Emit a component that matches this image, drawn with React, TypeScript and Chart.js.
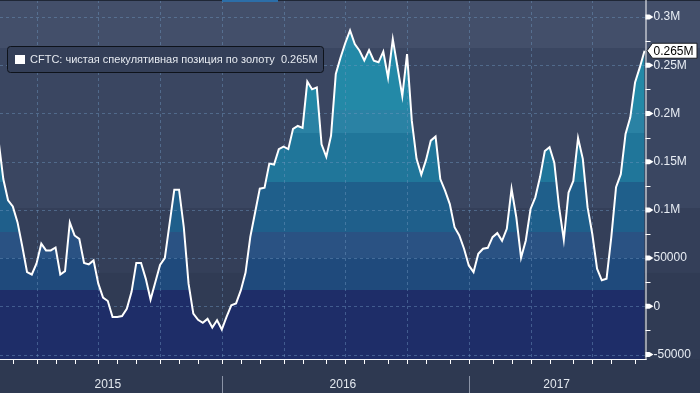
import { useEffect, useRef } from 'react';
import { Chart, registerables } from 'chart.js';

Chart.register(...registerables);

// ---- data ----
const seriesLabel = 'CFTC: чистая спекулятивная позиция по золоту';
const firstWeek = '2015-02-10'; // weekly CFTC reports (Tuesdays)
const positions = [
  172000, 132000, 110000, 103500, 87000, 62000, 35500, 33000, 44500, 65000,
  58000, 58000, 61000, 33000, 36500, 87000, 73500, 70000, 45000, 43500,
  47600, 23500, 9000, 5500, -11000, -11000, -10000, -2500, 15000, 45000,
  45000, 28500, 7000, 25000, 43000, 50000, 85500, 121000, 121000, 82000,
  23500, -7500, -14000, -17000, -13000, -22000, -14500, -24000, -11000, 1000,
  3000, 16500, 35000, 72000, 97000, 122000, 123000, 148000, 147000, 163000,
  165500, 163000, 184000, 187000, 185000, 233000, 225000, 227000, 168000, 155000,
  177000, 241000, 258000, 273000, 286000, 272000, 265000, 255000, 265700, 254600,
  253000, 264000, 237000, 277000, 247700, 218000, 261500, 192500, 153000, 136600,
  151800, 171800, 176000, 132000, 120000, 106000, 82000, 73500, 59700, 42400,
  35500, 54500, 59700, 60700, 71700, 75900, 68000, 80400, 121800, 92400,
  50400, 68300, 101000, 113000, 134000, 161000, 165000, 149000, 103000, 69000,
  118000, 130000, 174600, 152900, 102800, 75000, 39000, 27000, 28700, 71700,
  123500, 137000, 178700, 196000, 232000, 247700, 265000,
];
const yTicks = [-50000, 0, 50000, 100000, 150000, 200000, 250000, 300000];
const yMinorTicks = [-25000, 25000, 75000, 125000, 175000, 225000, 275000];
const lastValueLabel = '0.265M';

// ---- derived (dates from weekly series) ----
const DAY = 86400000;
const dates = positions.map((_, i) => new Date(Date.parse(firstWeek + 'T00:00:00Z') + i * 7 * DAY));
const xOf = (i: number) => i - 1;
const points = positions.map((v, i) => ({ x: xOf(i), y: v }));
const monthTicks: number[] = [];
const quarterTicks: number[] = [];
const yearStarts: number[] = [];
for (let i = 1; i < dates.length; i++) {
  if (dates[i].getUTCMonth() !== dates[i - 1].getUTCMonth()) {
    monthTicks.push(xOf(i));
    const m = dates[i].getUTCMonth();
    if (m % 3 === 0) quarterTicks.push(xOf(i));
    if (m === 0) yearStarts.push(xOf(i));
  }
}
const years: { label: string; mid: number }[] = [];
{
  const byYear = new Map<number, number[]>();
  dates.forEach((d, i) => {
    const y = d.getUTCFullYear();
    if (!byYear.has(y)) byYear.set(y, []);
    byYear.get(y)!.push(xOf(i));
  });
  byYear.forEach((xs, y) => years.push({ label: String(y), mid: (xs[0] + xs[xs.length - 1]) / 2 }));
}

// ---- styles ----
const FONT = '"Liberation Sans", Arial, sans-serif';
const bgBands: [number, number, string][] = [
  [0, 0.1337, '#434f6a'],
  [0.1337, 0.5794, '#3a4661'],
  [0.5794, 0.7604, '#343f59'],
  [0.7604, 1, '#303b54'],
];
const fillBands: [number, number, string][] = [
  [0, 0.1337, '#2a8dac'],
  [0.1337, 0.3064, '#2389a7'],
  [0.3064, 0.3705, '#2a82a4'],
  [0.3705, 0.507, '#20769a'],
  [0.507, 0.6462, '#1f5f8b'],
  [0.6462, 0.7187, '#2a5283'],
  [0.7187, 0.8078, '#1f4a7c'],
  [0.8078, 1, '#1e2d68'],
];

const fmt = (v: number) => (Math.abs(v) >= 100000 ? `${v / 1e6}M` : String(v));

const decor = {
  id: 'decor',
  beforeDraw(chart: any) {
    const { ctx, chartArea: a, width, height } = chart;
    ctx.save();
    const h = a.bottom - a.top;
    for (const [f0, f1, c] of bgBands) {
      ctx.fillStyle = c;
      ctx.fillRect(0, a.top + f0 * h, width, (f1 - f0) * h + 0.5);
    }
    ctx.fillStyle = '#2e3951';
    ctx.fillRect(0, a.bottom, width, height - a.bottom);
    ctx.restore();
  },
  beforeDatasetDraw(chart: any, args: any) {
    if (args.index !== 0) return;
    const { ctx, chartArea: a } = chart;
    const xs = chart.scales.x;
    const ys = chart.scales.y;
    ctx.save();
    ctx.beginPath();
    ctx.rect(a.left, a.top, a.right - a.left, a.bottom - a.top);
    ctx.clip();
    ctx.strokeStyle = 'rgba(110,150,190,0.45)';
    ctx.lineWidth = 1;
    ctx.setLineDash([3, 3]);
    ctx.beginPath();
    for (const v of yTicks) {
      const y = Math.round(ys.getPixelForValue(v)) + 0.5;
      ctx.moveTo(a.left, y);
      ctx.lineTo(a.right, y);
    }
    for (const q of quarterTicks) {
      const x = Math.round(xs.getPixelForValue(q)) + 0.5;
      ctx.moveTo(x, a.top);
      ctx.lineTo(x, a.bottom);
    }
    ctx.stroke();
    ctx.restore();
  },
  afterDraw(chart: any) {
    const { ctx, chartArea: a, width, height } = chart;
    const xs = chart.scales.x;
    const ys = chart.scales.y;
    ctx.save();
    // top strip
    ctx.fillStyle = '#1f2736';
    ctx.fillRect(0, 0, width, 1);
    ctx.fillStyle = '#2c6ea8';
    ctx.fillRect(222, 0, 56, 2);
    // axes
    ctx.strokeStyle = '#ffffff';
    ctx.lineWidth = 1;
    ctx.beginPath();
    ctx.moveTo(a.right + 0.5, 0);
    ctx.lineTo(a.right + 0.5, a.bottom + 1);
    ctx.moveTo(a.left, a.bottom + 0.5);
    ctx.lineTo(a.right + 1, a.bottom + 0.5);
    for (const m of monthTicks) {
      const x = Math.round(xs.getPixelForValue(m)) + 0.5;
      ctx.moveTo(x, a.bottom);
      ctx.lineTo(x, a.bottom + 5);
    }
    for (const v of yMinorTicks) {
      const y = Math.round(ys.getPixelForValue(v)) + 0.5;
      ctx.moveTo(a.right, y);
      ctx.lineTo(a.right + 5, y);
    }
    ctx.stroke();
    // major tick pointers
    ctx.fillStyle = '#ffffff';
    for (const v of yTicks) {
      const y = ys.getPixelForValue(v);
      ctx.beginPath();
      ctx.moveTo(a.right, y - 2.5);
      ctx.lineTo(a.right + 4, y - 2.5);
      ctx.lineTo(a.right + 8, y);
      ctx.lineTo(a.right + 4, y + 2.5);
      ctx.lineTo(a.right, y + 2.5);
      ctx.closePath();
      ctx.fill();
    }
    // year separators & labels
    ctx.strokeStyle = '#8a93a6';
    ctx.beginPath();
    for (const s of yearStarts) {
      const x = Math.round(xs.getPixelForValue(s)) + 0.5;
      ctx.moveTo(x, a.bottom + 17);
      ctx.lineTo(x, height);
    }
    ctx.stroke();
    ctx.fillStyle = '#e3e8ef';
    ctx.font = `12px ${FONT}`;
    ctx.textAlign = 'center';
    ctx.textBaseline = 'middle';
    for (const y of years) {
      ctx.fillText(y.label, xs.getPixelForValue(y.mid), a.bottom + 26);
    }
    // last value tag
    const lastY = ys.getPixelForValue(positions[positions.length - 1]);
    const bx = a.right + 7;
    ctx.beginPath();
    ctx.moveTo(a.right + 1.5, lastY);
    ctx.lineTo(bx, lastY - 7.5);
    ctx.lineTo(width - 3, lastY - 7.5);
    ctx.lineTo(width - 3, lastY + 7.5);
    ctx.lineTo(bx, lastY + 7.5);
    ctx.closePath();
    ctx.fillStyle = '#ffffff';
    ctx.fill();
    ctx.strokeStyle = '#1a1d24';
    ctx.stroke();
    ctx.fillStyle = '#000000';
    ctx.textAlign = 'left';
    ctx.font = `12px ${FONT}`;
    ctx.fillText(lastValueLabel, bx + 1, lastY + 1);
    // legend
    const lx = 7.5, ly = 46.5, lw = 316, lh = 26;
    ctx.beginPath();
    ctx.roundRect(lx, ly, lw, lh, 3);
    ctx.fillStyle = '#343f58';
    ctx.fill();
    ctx.strokeStyle = '#0e131b';
    ctx.stroke();
    ctx.fillStyle = '#ffffff';
    ctx.fillRect(15, 55, 10, 9);
    ctx.fillStyle = '#e6eaf0';
    ctx.font = `11px ${FONT}`;
    ctx.textAlign = 'left';
    ctx.textBaseline = 'middle';
    ctx.fillText(`${seriesLabel}  ${lastValueLabel}`, 30, 60);
    ctx.restore();
  },
};

export default function App() {
  const ref = useRef<HTMLCanvasElement>(null);
  useEffect(() => {
    document.body.style.margin = '0';
    document.body.style.background = '#2e3951';
    const chart = new Chart(ref.current!, {
      type: 'line',
      data: {
        datasets: [
          {
            label: seriesLabel,
            data: points,
            borderColor: '#ffffff',
            borderWidth: 2,
            pointRadius: 0,
            fill: false,
            tension: 0,
            order: 0,
          },
          {
            label: 'fill',
            data: points,
            borderWidth: 0,
            pointRadius: 0,
            fill: 'start',
            tension: 0,
            order: 1,
            backgroundColor: (c: any) => {
              const ch = c.chart;
              const a = ch.chartArea;
              if (!a) return 'transparent';
              const g = ch.ctx.createLinearGradient(0, a.top, 0, a.bottom);
              for (const [f0, f1, col] of fillBands) {
                g.addColorStop(f0, col);
                g.addColorStop(f1, col);
              }
              return g;
            },
          },
        ],
      },
      options: {
        responsive: false,
        animation: false,
        devicePixelRatio: 1,
        layout: { padding: { left: 0, top: 0, right: 0, bottom: 34 } },
        plugins: { legend: { display: false }, tooltip: { enabled: false } },
        scales: {
          x: { type: 'linear', display: false, min: -0.695, max: 135.2 },
          y: {
            position: 'right',
            min: -54600,
            max: 317600,
            grid: { display: false, drawTicks: false },
            border: { display: false },
            afterBuildTicks: (s: any) => {
              s.ticks = yTicks.map((value) => ({ value }));
            },
            afterFit: (s: any) => {
              s.width = 54.5;
              s.paddingTop = 0;
              s.paddingBottom = 0;
            },
            ticks: {
              padding: 8,
              color: '#e8edf4',
              font: { size: 12, family: FONT },
              callback: (v: any) => fmt(Number(v)),
            },
          },
        },
      },
      plugins: [decor],
    });
    return () => chart.destroy();
  }, []);
  return <canvas ref={ref} width={700} height={393} style={{ display: 'block' }} />;
}
